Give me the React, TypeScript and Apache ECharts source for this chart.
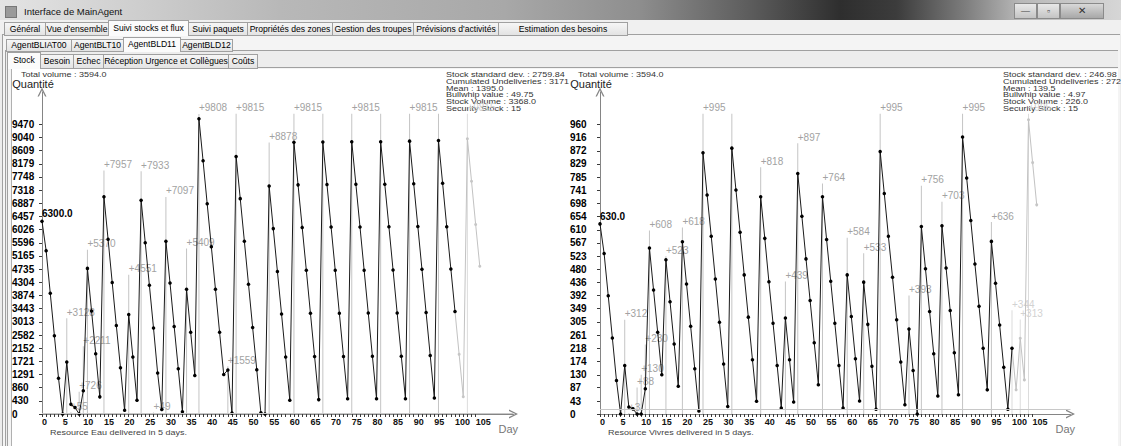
import React, { useEffect, useRef } from "react";
import * as echarts from "echarts";

const FONT = '"Liberation Sans", Arial, sans-serif';

// ---------- Chart data ----------
const eauStock = [
  6300, 5340, 3950, 2560, 1170, 0, 1700, 320, 210, 0,
  760, 4760, 3370, 1970, 560, 7100, 5710, 4300, 2890, 1510,
  120, 3250, 1860, 450, 6990, 5600, 4210, 2810, 1340, 150,
  5650, 4280, 2860, 1480, 70, 4080, 2670, 1260, 9650, 8280,
  6870, 5470, 4080, 2670, 1290, 1440, 30, 8420, 7040, 5650,
  4240, 2830, 1450, 40, 0, 7450, 6060, 4660, 3270, 1860,
  450, 8880, 7490, 6100, 4700, 3290, 1880, 470, 8890, 7500,
  6110, 4700, 3290, 1880, 500, 8900, 7510, 6110, 4700, 3300,
  1890, 500, 8900, 7510, 6120, 4710, 3300, 1890, 500, 8920,
  7530, 6130, 4730, 3320, 1910, 520, 8940, 7540, 6120, 4740,
  3350,
];
const eauForecastStart = 100;
const eauForecast = [3350, 1950, 566, 9000, 7610, 6195, 4830];
const eauDeliveryDays = [6, 7, 9, 10, 11, 15, 21, 24, 27, 30, 35, 38, 45, 47, 55, 61, 68, 75, 82, 89, 96, 103];
const eauDeliveryQty = [3128, 55, 726, 2211, 5370, 7957, 4551, 7933, 49, 7097, 5409, 9808, 1559, 9815, 8878, 9815, 9815, 9815, 9815, 9815, 9815, 9815];
const eauDeliveryLabelled = [1, 1, 1, 1, 1, 1, 1, 1, 1, 1, 1, 1, 1, 1, 1, 1, 0, 1, 0, 1, 0, 1];
const eauTicks = [0, 430, 860, 1291, 1721, 2152, 2582, 3013, 3443, 3874, 4304, 4735, 5165, 5596, 6026, 6457, 6887, 7318, 7748, 8179, 8609, 9040, 9470];
const eauStats = [
  "Stock standard dev. : 2759.84",
  "Cumulated Undeliveries : 3171",
  "Mean : 1395.0",
  "Bullwhip value : 49.75",
  "Stock Volume : 3368.0",
  "Security Stock : 15",
];

const vivresStock = [
  630, 532, 392, 252, 111, 0, 161, 23, 17, 0,
  0, 84, 550, 411, 271, 130, 511, 372, 232, 92,
  571, 431, 291, 150, 10, 866, 726, 589, 447, 304,
  166, 25, 881, 742, 602, 461, 321, 180, 42, 720,
  582, 438, 301, 161, 20, 318, 180, 40, 797, 655,
  514, 376, 236, 97, 720, 578, 440, 301, 161, 20,
  461, 323, 183, 43, 437, 297, 158, 16, 870, 731,
  589, 453, 312, 172, 31, 282, 144, 0, 621, 481,
  340, 200, 60, 624, 484, 343, 203, 64, 918, 782,
  641, 497, 357, 218, 80, 572, 433, 295, 155, 16,
  218,
];
const vivresForecastStart = 100;
const vivresForecast = [218, 80, 251, 113, 975, 833, 693];
const vivresDeliveryDays = [6, 7, 9, 10, 11, 12, 16, 20, 25, 32, 39, 45, 48, 54, 60, 64, 68, 75, 78, 83, 88, 95, 100, 102, 104];
const vivresDeliveryQty = [312, 3, 88, 130, 230, 608, 523, 618, 995, 995, 818, 439, 897, 764, 584, 533, 995, 393, 756, 703, 995, 636, 344, 313, 995];
const vivresDeliveryLabelled = [1, 1, 1, 1, 1, 1, 1, 1, 1, 0, 1, 1, 1, 1, 1, 1, 1, 1, 1, 1, 1, 1, 1, 1, 1];
const vivresTicks = [0, 43, 87, 130, 174, 218, 261, 305, 349, 392, 436, 480, 523, 567, 610, 654, 698, 741, 785, 829, 872, 916, 960];
const vivresStats = [
  "Stock standard dev. : 246.98",
  "Cumulated Undeliveries : 272",
  "Mean : 139.5",
  "Bullwhip value : 4.97",
  "Stock Volume : 226.0",
  "Security Stock : 15",
];

const securityStock = 15;
const totalVolume = "Total volume : 3594.0";
const dayTicks = Array.from({ length: 106 }, (_, i) => i);
const dayLabels = [0, 5, 10, 15, 20, 25, 30, 35, 40, 45, 50, 55, 60, 65, 70, 75, 80, 85, 90, 95, 100, 105];

// ---------- UI chrome ----------
const tabRow1 = [
  ["Général", 4, 45], ["Vue d'ensemble", 45, 108], ["Suivi stocks et flux", 108, 188, 1],
  ["Suivi paquets", 188, 247], ["Propriétés des zones", 247, 332], ["Gestion des troupes", 332, 413],
  ["Prévisions d'activités", 413, 498], ["Estimation des besoins", 498, 627],
];
const tabRow2 = [["AgentBLIAT00", 6, 71], ["AgentBLT10", 71, 123], ["AgentBLD11", 123, 180, 1], ["AgentBLD12", 180, 232]];
const tabRow3 = [["Stock", 7, 40, 1], ["Besoin", 40, 73], ["Echec", 73, 103], ["Réception Urgence et Collègues", 103, 228], ["Coûts", 228, 257]];

const chevron = "path://M0,10 L5,0 L10,10 L8.4,10 L5,3 L1.6,10 Z";

type ChartCfg = {
  stock: number[]; forecastStart: number; forecast: number[];
  dDays: number[]; dQty: number[]; dLab: number[]; ticks: number[];
  left: number; width: number; xMax: number; yMax: number;
};

function buildOption() {
  const cfgs: ChartCfg[] = [
    { stock: eauStock, forecastStart: eauForecastStart, forecast: eauForecast, dDays: eauDeliveryDays, dQty: eauDeliveryQty, dLab: eauDeliveryLabelled, ticks: eauTicks, left: 42, width: 471.5, xMax: 471.5 / 4.13, yMax: 322 * (9470 / 289.7) },
    { stock: vivresStock, forecastStart: vivresForecastStart, forecast: vivresForecast, dDays: vivresDeliveryDays, dQty: vivresDeliveryQty, dLab: vivresDeliveryLabelled, ticks: vivresTicks, left: 600, width: 470.5, xMax: 470.5 / 4.12, yMax: 322 * (960 / 289.7) },
  ];
  const grid: any[] = [], xAxis: any[] = [], yAxis: any[] = [], series: any[] = [];
  cfgs.forEach((c, i) => {
    grid.push({ left: c.left, top: 92, width: c.width, height: 322 });
    xAxis.push({
      type: "value", gridIndex: i, min: 0, max: c.xMax,
      axisLine: { show: true, onZero: false, symbol: ["none", chevron], symbolSize: [9, 9], lineStyle: { color: "#858585", width: 1 } },
      axisTick: { show: true, customValues: dayTicks, length: 3, lineStyle: { color: "#3a3a3a" } },
      axisLabel: { show: true, customValues: dayLabels, align: "left", margin: 3, fontSize: 9, fontWeight: "bold", color: "#111", fontFamily: FONT, formatter: (v: number) => String(Math.round(v)) },
      splitLine: { show: false },
      name: "Day", nameLocation: "end", nameGap: 4.5,
      nameTextStyle: { align: "right", verticalAlign: "top", padding: [9, 0, 0, 0], fontSize: 11, color: "#777", fontFamily: FONT },
    });
    yAxis.push({
      type: "value", gridIndex: i, min: 0, max: c.yMax,
      axisLine: { show: true, onZero: false, symbol: ["none", chevron], symbolSize: [9, 9], lineStyle: { color: "#858585", width: 1 } },
      axisTick: { show: true, customValues: c.ticks, length: 3, lineStyle: { color: "#3a3a3a" } },
      axisLabel: { show: true, customValues: c.ticks, align: "left", margin: 30, fontSize: 10, fontWeight: "bold", color: "#000", fontFamily: FONT, verticalAlign: "middle", padding: [0, 0, 5, 0], formatter: (v: number) => String(Math.round(v)) },
      splitLine: { show: false },
      name: "Quantité", nameLocation: "end", nameGap: 2.5,
      nameTextStyle: { align: "center", verticalAlign: "bottom", padding: [0, 18, 0, 0], fontSize: 11, color: "#222", fontFamily: FONT },
    });
    series.push({
      type: "bar", xAxisIndex: i, yAxisIndex: i, barWidth: 1, z: 1, silent: true,
      label: { position: "top", align: "left", distance: 1, fontSize: 10, fontFamily: FONT, formatter: (p: any) => "+" + p.value[1] },
      data: c.dDays.map((d, k) => {
        const fc = d >= c.forecastStart;
        return {
          value: [d, c.dQty[k]],
          itemStyle: { color: fc ? "#dcdcdc" : "#c4c4c4" },
          label: { show: !!c.dLab[k], color: fc ? "#d2d2d2" : "#a2a2a2" },
        };
      }),
    });
    series.push({
      type: "line", xAxisIndex: i, yAxisIndex: i, z: 3, clip: false, silent: true,
      symbol: "circle", symbolSize: 3.5,
      lineStyle: { color: "#1a1a1a", width: 1 }, itemStyle: { color: "#000" },
      data: c.stock.map((v, d) => d === 0
        ? { value: [d, v], label: { show: true, position: "top", align: "left", distance: 1, formatter: v.toFixed(1), fontWeight: "bold", fontSize: 10, color: "#000", fontFamily: FONT } }
        : [d, v]),
      markLine: {
        silent: true, symbol: ["none", "none"], label: { show: false },
        lineStyle: { color: "#c8c8c8", type: "solid", width: 1 },
        data: [{ yAxis: securityStock }],
      },
    });
    series.push({
      type: "line", xAxisIndex: i, yAxisIndex: i, z: 2, clip: false, silent: true,
      symbol: "circle", symbolSize: 3,
      lineStyle: { color: "#c2c2c2", width: 1 }, itemStyle: { color: "#c6c6c6" },
      data: c.forecast.map((v, k) => [c.forecastStart + k, v]),
    });
  });

  const txt = (text: string, x: number, y: number, color = "#333") => ({
    type: "text", x, y, scaleY: 0.78, silent: true,
    style: { text, x: 0, y: 0, fill: color, font: `9px ${FONT}`, verticalAlign: "middle", align: "left" },
  });
  const graphic: any[] = [
    txt(totalVolume, 21, 75),
    txt(totalVolume, 578, 75),
    ...eauStats.map((s, k) => txt(s, 446, 75 + k * 6.7)),
    ...vivresStats.map((s, k) => txt(s, 1003, 75 + k * 6.7)),
    txt("Resource Eau delivered in 5 days.", 50, 433, "#444"),
    txt("Resource Vivres delivered in 5 days.", 608, 433, "#444"),
  ];

  return { animation: false, grid, xAxis, yAxis, series, graphic };
}

function TabRow({ tabs, top, bottom, selTop }: { tabs: any[]; top: number; bottom: number; selTop: number }) {
  return (
    <>
      {tabs.map(([label, x0, x1, sel]) => (
        <div key={label} style={{
          position: "absolute", left: x0, top: sel ? selTop : top, width: x1 - x0 - 1,
          height: sel ? bottom - selTop + 1 : bottom - top,
          border: "1px solid #a0a0a0", borderBottom: sel ? "none" : "1px solid #a0a0a0",
          background: sel ? "#fbfbfb" : "linear-gradient(#f6f6f6, #e3e3e3)",
          fontSize: 8.6, color: "#000", textAlign: "center", whiteSpace: "nowrap",
          lineHeight: (sel ? bottom - selTop : bottom - top) + "px", zIndex: sel ? 2 : 1, overflow: "hidden",
        }}>{label}</div>
      ))}
    </>
  );
}

export default function App() {
  const ref = useRef<HTMLDivElement>(null);
  useEffect(() => {
    const chart = echarts.init(ref.current!, null, { renderer: "svg" });
    chart.setOption(buildOption() as any);
    return () => chart.dispose();
  }, []);
  return (
    <div style={{ position: "fixed", left: 0, top: 0, width: 1121, height: 446, background: "#ececec", overflow: "hidden", fontFamily: FONT }}>
      {/* title bar */}
      <div style={{
        position: "absolute", left: 0, top: 0, width: 1121, height: 20,
        background: "linear-gradient(90deg, #e4e4e4 0%, #d2d2d2 10%, #b8b8b8 25%, #a8a8a8 45%, #8e8e8e 57%, #5c5c5c 67%, #2e2e2e 75%, #3c3c3c 80%, #7c7c7c 86%, #b8b8b8 91%, #d6d6d6 100%)",
      }} />
      <div style={{ position: "absolute", left: 5, top: 6, width: 10, height: 10, background: "#9a9a9a", border: "1px solid #777" }} />
      <div style={{ position: "absolute", left: 24, top: 6, fontSize: 9.5, lineHeight: "12px", color: "#111" }}>Interface de MainAgent</div>
      <div style={{ position: "absolute", left: 1014, top: 3, width: 21, height: 14, border: "1px solid #8a8a8a", background: "linear-gradient(#e8e8e8,#c4c4c4)", fontSize: 9, textAlign: "center", lineHeight: "14px", color: "#444" }}>—</div>
      <div style={{ position: "absolute", left: 1037, top: 3, width: 21, height: 14, border: "1px solid #8a8a8a", background: "linear-gradient(#e8e8e8,#c4c4c4)", fontSize: 9, textAlign: "center", lineHeight: "14px", color: "#444" }}>▫</div>
      <div style={{ position: "absolute", left: 1060, top: 3, width: 42, height: 14, border: "1px solid #8a8a8a", background: "linear-gradient(#d8d8d8,#a8a8a8)", fontSize: 10, textAlign: "center", lineHeight: "14px", color: "#333" }}>✕</div>

      {/* tab panes */}
      <div style={{ position: "absolute", left: 0, top: 20, width: 1121, height: 14, background: "#f0f0f0" }} />
      <div style={{ position: "absolute", left: 2, top: 34, width: 1117, height: 412, borderTop: "1px solid #a0a0a0", borderLeft: "1px solid #a0a0a0", background: "#f4f4f4" }} />
      <div style={{ position: "absolute", left: 5, top: 50, width: 1112, height: 396, borderTop: "1px solid #a0a0a0", borderLeft: "1px solid #a0a0a0", background: "#ededed" }} />
      <div style={{ position: "absolute", left: 7, top: 67, width: 1110, height: 379, borderTop: "1px solid #a0a0a0", borderLeft: "1px solid #a0a0a0", background: "#f4f4f4" }} />
      <div style={{ position: "absolute", left: 11, top: 69, width: 1106, height: 377, borderLeft: "1px solid #b0b0b0", background: "#ffffff" }} />
      <TabRow tabs={tabRow1} top={22} bottom={34} selTop={20} />
      <TabRow tabs={tabRow2} top={39} bottom={50} selTop={37} />
      <TabRow tabs={tabRow3} top={54} bottom={67} selTop={52} />

      <div ref={ref} style={{ position: "absolute", left: 0, top: 0, width: 1121, height: 446 }} />
    </div>
  );
}
